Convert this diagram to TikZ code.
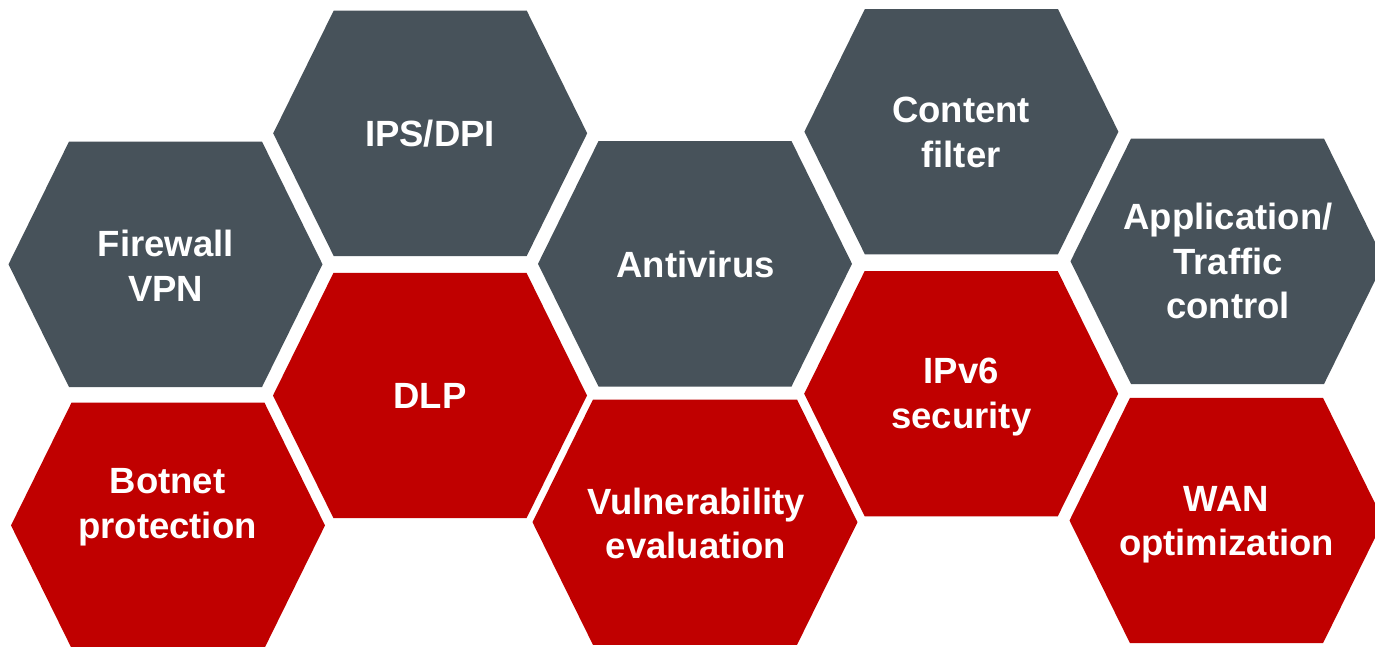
\documentclass[tikz,border=0pt]{standalone}
\usepackage{fontspec}
\setmainfont{Liberation Sans}
\usepackage{tikz}
\definecolor{slate}{HTML}{47525A}
\definecolor{brick}{HTML}{C00000}
\tikzstyle{greycell} = [fill=slate]
\tikzstyle{redcell} = [fill=brick]
\tikzstyle{celltext} = [text=white, font=\bfseries\fontsize{36.5}{44.5}\selectfont,
    align=center, inner sep=0pt, anchor=north]
% hexagon: [half width] {x} {y} {style}
\newcommand{\hexcell}[4][157]{
    \fill[#4] (#2-#1,#3) -- (#2-#1+60.5,#3-122.7) -- (#2+#1-60.5,#3-122.7)
        -- (#2+#1,#3) -- (#2+#1-60.5,#3+122.7) -- (#2-#1+60.5,#3+122.7) -- cycle;}

\begin{document}
\begin{tikzpicture}[x=1pt, y=-1pt]
    \fill[white] (0,0) rectangle (1375,646);
    \useasboundingbox (0,0) rectangle (1375,646);
    % Draw cells
    \hexcell{165.5}{264.3}{greycell}
    \hexcell{430.2}{133.3}{greycell}
    \hexcell{430}{395.5}{redcell}
    \hexcell{168}{525.4}{redcell}
    \hexcell{695}{263.8}{greycell}
    \hexcell[162.5]{695}{522.2}{redcell}
    \hexcell{961.4}{131.7}{greycell}
    \hexcell{961.2}{393.7}{redcell}
    \hexcell{1227.5}{261.3}{greycell}
    \hexcell{1226.5}{520.5}{redcell}
    % Place nodes
    \node [celltext] (firewall) at (165.8,230) {Firewall\\VPN};
    \node [celltext] (ips) at (430,120) {IPS/DPI};
    \node [celltext] (dlp) at (430,383.3) {DLP};
    \node [celltext] (botnet) at (167.5,468.3) {Botnet\\protection};
    \node [celltext] (antivirus) at (695.5,250.9) {Antivirus};
    \node [celltext] (vuln) at (696,487.4) {Vulnerability\\evaluation};
    \node [celltext] (content) at (961,97.3) {Content\\filter};
    \node [celltext] (ipv6) at (961.3,358.3) {IPv6\\security};
    \node [celltext] (app) at (1228,203.3) {Application/\\Traffic\\control};
    \node [celltext] (wan) at (1226.5,486) {WAN\\optimization};
\end{tikzpicture}
\end{document}
